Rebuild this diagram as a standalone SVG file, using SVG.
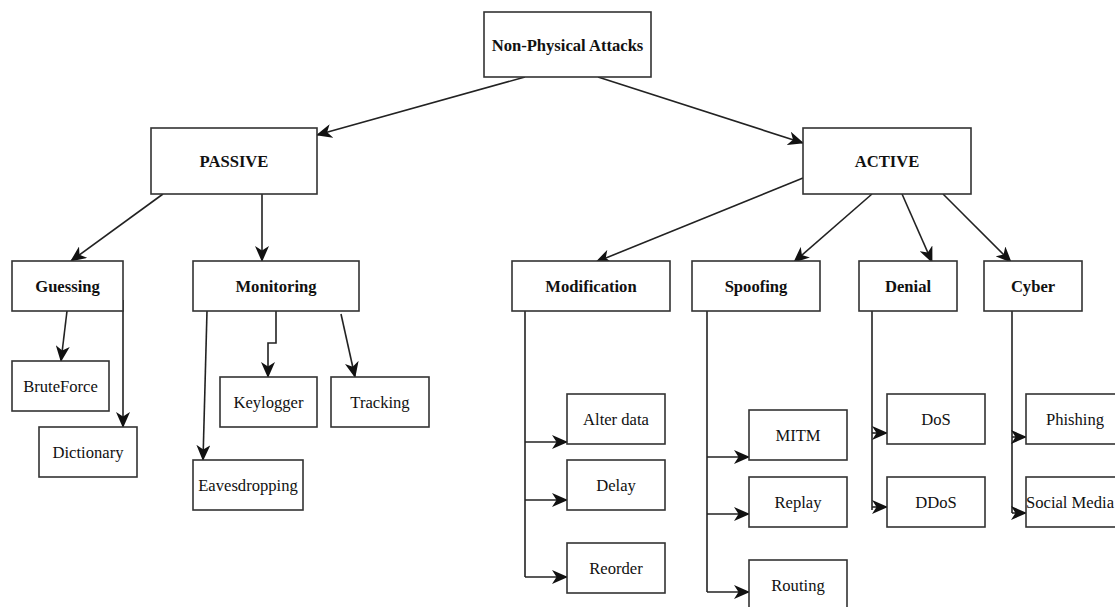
<svg xmlns="http://www.w3.org/2000/svg" width="1115" height="607" viewBox="0 0 1115 607">
<style>
.box{fill:#fff;stroke:#333;stroke-width:1.6}
.b{font-family:"Liberation Serif","Times New Roman",serif;font-size:16.6px;font-weight:bold;fill:#111;text-anchor:middle;dominant-baseline:central}
.r{font-family:"Liberation Serif","Times New Roman",serif;font-size:16.6px;fill:#111;text-anchor:middle;dominant-baseline:central}
.c{fill:none;stroke:#222;stroke-width:1.6}
</style>
<defs>
<marker id="ah" viewBox="0 0 16 14" refX="15" refY="7" markerWidth="16" markerHeight="14" markerUnits="userSpaceOnUse" orient="auto">
<path d="M0,0 L16,7 L0,14 L4.5,7 z" fill="#111"/>
</marker>
</defs>
<g id="connectors">
<line class="c" x1="525" y1="77" x2="317" y2="135" marker-end="url(#ah)"/>
<line class="c" x1="598" y1="77" x2="803" y2="143" marker-end="url(#ah)"/>
<line class="c" x1="163" y1="194" x2="71" y2="261" marker-end="url(#ah)"/>
<line class="c" x1="262" y1="194" x2="262" y2="261" marker-end="url(#ah)"/>
<line class="c" x1="803" y1="178" x2="596" y2="262" marker-end="url(#ah)"/>
<line class="c" x1="872" y1="194" x2="794" y2="262" marker-end="url(#ah)"/>
<line class="c" x1="902" y1="194" x2="932" y2="262" marker-end="url(#ah)"/>
<line class="c" x1="943" y1="194" x2="1011" y2="262" marker-end="url(#ah)"/>
<line class="c" x1="67" y1="311" x2="61" y2="361" marker-end="url(#ah)"/>
<line class="c" x1="123" y1="300" x2="123" y2="427" marker-end="url(#ah)"/>
<line class="c" x1="207" y1="311" x2="203" y2="460" marker-end="url(#ah)"/>
<path class="c" d="M276,311 V343 H268 V377" marker-end="url(#ah)"/>
<line class="c" x1="341" y1="314" x2="355" y2="377" marker-end="url(#ah)"/>
<path class="c" d="M525,311 V577"/>
<line class="c" x1="525" y1="442" x2="567" y2="442" marker-end="url(#ah)"/>
<line class="c" x1="525" y1="500" x2="567" y2="500" marker-end="url(#ah)"/>
<line class="c" x1="525" y1="577" x2="567" y2="577" marker-end="url(#ah)"/>
<path class="c" d="M707,311 V592"/>
<line class="c" x1="707" y1="457" x2="749" y2="457" marker-end="url(#ah)"/>
<line class="c" x1="707" y1="514" x2="749" y2="514" marker-end="url(#ah)"/>
<line class="c" x1="707" y1="592" x2="749" y2="592" marker-end="url(#ah)"/>
<path class="c" d="M872,311 V510"/>
<line class="c" x1="872" y1="433" x2="887" y2="433" marker-end="url(#ah)"/>
<line class="c" x1="872" y1="507" x2="887" y2="507" marker-end="url(#ah)"/>
<path class="c" d="M1012,311 V513"/>
<line class="c" x1="1012" y1="437" x2="1026" y2="437" marker-end="url(#ah)"/>
<line class="c" x1="1012" y1="513" x2="1026" y2="513" marker-end="url(#ah)"/>
</g>
<g id="n-root"><rect class="box" x="484" y="12" width="167" height="65"/><text class="b" x="567.5" y="45">Non-Physical Attacks</text></g>
<g id="n-passive"><rect class="box" x="151" y="128" width="166" height="66"/><text class="b" x="234" y="161">PASSIVE</text></g>
<g id="n-active"><rect class="box" x="803" y="128" width="168" height="66"/><text class="b" x="887" y="161">ACTIVE</text></g>
<g id="n-guessing"><rect class="box" x="12" y="261" width="111" height="50"/><text class="b" x="67.5" y="286">Guessing</text></g>
<g id="n-monitoring"><rect class="box" x="193" y="261" width="166" height="50"/><text class="b" x="276" y="286">Monitoring</text></g>
<g id="n-modification"><rect class="box" x="512" y="261" width="158" height="50"/><text class="b" x="591" y="286">Modification</text></g>
<g id="n-spoofing"><rect class="box" x="692" y="261" width="128" height="50"/><text class="b" x="756" y="286">Spoofing</text></g>
<g id="n-denial"><rect class="box" x="859" y="261" width="98" height="50"/><text class="b" x="908" y="286">Denial</text></g>
<g id="n-cyber"><rect class="box" x="984" y="261" width="98" height="50"/><text class="b" x="1033" y="286">Cyber</text></g>
<g id="n-bruteforce"><rect class="box" x="12" y="361" width="97" height="50"/><text class="r" x="60.5" y="386">BruteForce</text></g>
<g id="n-dictionary"><rect class="box" x="39" y="427" width="98" height="50"/><text class="r" x="88" y="452">Dictionary</text></g>
<g id="n-keylogger"><rect class="box" x="220" y="377" width="97" height="50"/><text class="r" x="268.5" y="402">Keylogger</text></g>
<g id="n-tracking"><rect class="box" x="331" y="377" width="98" height="50"/><text class="r" x="380" y="402">Tracking</text></g>
<g id="n-eavesdropping"><rect class="box" x="193" y="460" width="110" height="50"/><text class="r" x="248" y="485">Eavesdropping</text></g>
<g id="n-alter"><rect class="box" x="567" y="394" width="98" height="50"/><text class="r" x="616" y="419">Alter data</text></g>
<g id="n-delay"><rect class="box" x="567" y="460" width="98" height="50"/><text class="r" x="616" y="485">Delay</text></g>
<g id="n-reorder"><rect class="box" x="567" y="543" width="98" height="50"/><text class="r" x="616" y="568">Reorder</text></g>
<g id="n-mitm"><rect class="box" x="749" y="410" width="98" height="50"/><text class="r" x="798" y="435">MITM</text></g>
<g id="n-replay"><rect class="box" x="749" y="477" width="98" height="50"/><text class="r" x="798" y="502">Replay</text></g>
<g id="n-routing"><rect class="box" x="749" y="560" width="98" height="50"/><text class="r" x="798" y="585">Routing</text></g>
<g id="n-dos"><rect class="box" x="887" y="394" width="98" height="50"/><text class="r" x="936" y="419">DoS</text></g>
<g id="n-ddos"><rect class="box" x="887" y="477" width="98" height="50"/><text class="r" x="936" y="502">DDoS</text></g>
<g id="n-phishing"><rect class="box" x="1026" y="394" width="98" height="50"/><text class="r" x="1075" y="419">Phishing</text></g>
<g id="n-social"><rect class="box" x="1026" y="477" width="98" height="50"/><text class="r" x="1070" y="502">Social Media</text></g>
</svg>
